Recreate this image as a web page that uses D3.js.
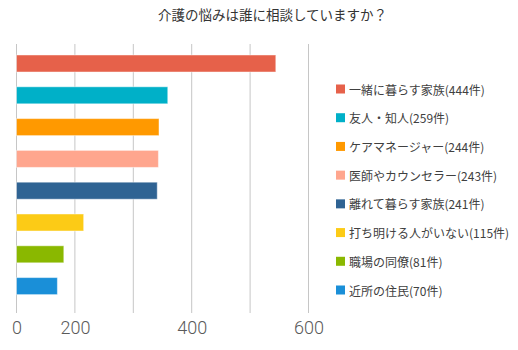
<!DOCTYPE html>
<html><head><meta charset="utf-8">
<script src="https://cdn.jsdelivr.net/npm/d3@7"></script>
<style>
html,body{margin:0;padding:0;background:#fff;}
svg{display:block;}
</style></head>
<body>
<script>
const title = "介護の悩みは誰に相談していますか？";
const categories = ["一緒に暮らす家族","友人・知人","ケアマネージャー","医師やカウンセラー","離れて暮らす家族","打ち明ける人がいない","職場の同僚","近所の住民"];
const values = [444,259,244,243,241,115,81,70];
const colors = ["#E6614A","#00B0C8","#FF9900","#FFA68E","#2F6393","#FCCB16","#8AB800","#1A8FD8"];
const gridValues = [0,100,200,300,400,500];
const tickLabels = ["0","200","","400","","600"];

const W = 518, H = 350;
const svg = d3.select("body").append("svg").attr("width", W).attr("height", H);

const x = d3.scaleLinear().domain([0,500]).range([16.5,308.5]);
const y = d3.scaleBand().domain(categories).range([47.6,302]).paddingInner(0.465).paddingOuter(0.2325);

// gridlines
svg.append("g").selectAll("line").data(gridValues).join("line")
  .attr("x1", d=>x(d)).attr("x2", d=>x(d))
  .attr("y1", 44).attr("y2", 313)
  .attr("stroke", "#c6c6c6").attr("stroke-width", 1);

// bars
svg.append("g").selectAll("rect").data(values).join("rect")
  .attr("x", x(0))
  .attr("y", (d,i)=>y(categories[i]))
  .attr("width", d=>x(d)-x(0))
  .attr("height", y.bandwidth())
  .attr("fill", (d,i)=>colors[i])
  .attr("stroke", "rgba(255,255,255,0.45)").attr("stroke-width", 1);

// x axis labels
const axis = d3.axisBottom(x).tickValues(gridValues).tickFormat((d,i)=>tickLabels[i]).tickSize(0).tickPadding(0);
const ag = svg.append("g").attr("transform","translate(0,320)").call(axis);
ag.select(".domain").remove();
ag.selectAll("text")
  .attr("font-family","Roboto, 'Noto Sans', sans-serif")
  .attr("font-weight",300)
  .attr("font-size",18)
  .attr("fill","#5a5a5a")
  .attr("dy","0.75em");

// title
svg.append("text").attr("x",272.5).attr("y",14)
  .attr("text-anchor","middle").attr("dominant-baseline","central")
  .attr("font-family","'Noto Sans CJK JP', sans-serif")
  .attr("font-size",13.5).attr("fill","#333")
  .text(title);

// legend
const lg = svg.append("g");
const ly = d3.scalePoint().domain(categories).range([89,290]);
const items = lg.selectAll("g").data(categories).join("g")
  .attr("transform", d=>`translate(336,${ly(d)})`);
items.append("rect").attr("x",0).attr("y",-4.5).attr("width",9).attr("height",9)
  .attr("fill",(d,i)=>colors[i]);
items.append("text").attr("x",13).attr("y",0).attr("dominant-baseline","central")
  .attr("font-family","'Noto Sans CJK JP', sans-serif")
  .attr("font-size",12).attr("fill","#404040")
  .text((d,i)=>`${d}(${values[i]}件)`);
</script>
</body></html>
